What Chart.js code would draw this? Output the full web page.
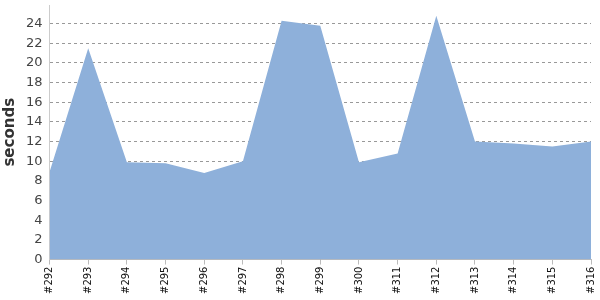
<!DOCTYPE html>
<html>
<head>
<meta charset="utf-8">
<script src="https://cdn.jsdelivr.net/npm/chart.js@4"></script>
<style>
  html, body { margin: 0; padding: 0; background: #fff; }
  #wrap { width: 600px; height: 300px; }
</style>
</head>
<body>
<div id="wrap"><canvas id="chart"></canvas></div>
<script>
// build numbers on the x axis
const builds = ['#292', '#293', '#294', '#295', '#296', '#297', '#298', '#299', '#300', '#311', '#312', '#313', '#314', '#315', '#316'];
// duration per build, seconds
const durations = [8.9, 21.5, 9.9, 9.8, 8.8, 10.0, 24.3, 23.8, 9.9, 10.8, 24.8, 12.0, 11.8, 11.5, 12.0];
const yTicks = [0, 2, 4, 6, 8, 10, 12, 14, 16, 18, 20, 22, 24];

new Chart(document.getElementById('chart').getContext('2d'), {
    type: 'line',
    data: {
        labels: builds,
        datasets: [{
            data: durations,
            fill: 'origin',
            backgroundColor: 'rgb(142,176,218)',
            borderWidth: 0,
            pointRadius: 0,
            tension: 0
        }]
    },
    options: {
        responsive: true,
        maintainAspectRatio: false,
        animation: false,
        layout: { padding: { top: 5, right: 9, left: 1, bottom: 4 } },
        plugins: { legend: { display: false }, tooltip: { enabled: false } },
        scales: {
            x: {
                offset: false,
                afterFit: (axis) => { axis.paddingRight = 0; axis.paddingLeft = 0; },
                grid: { drawOnChartArea: false, drawTicks: true, tickLength: 5, color: '#bbb' },
                border: { color: '#bbb' },
                ticks: {
                    maxRotation: 90, minRotation: 90, autoSkip: false,
                    color: '#111', font: { family: 'DejaVu Sans', size: 10 }, padding: 2
                }
            },
            y: {
                min: 0,
                max: 25.9,
                afterBuildTicks: (axis) => { axis.ticks = yTicks.map(v => ({ value: v })); },
                afterFit: (axis) => { axis.paddingTop = 0; },
                grid: { color: '#999', drawTicks: false },
                border: { color: '#ccc', dash: [3, 3] },
                ticks: { color: '#444', font: { family: 'DejaVu Sans', size: 13 }, padding: 7 },
                title: {
                    display: true, text: 'seconds', color: '#333',
                    font: { family: 'DejaVu Sans', size: 15, weight: 'bold' }, padding: 0
                }
            }
        }
    }
});
</script>
</body>
</html>
